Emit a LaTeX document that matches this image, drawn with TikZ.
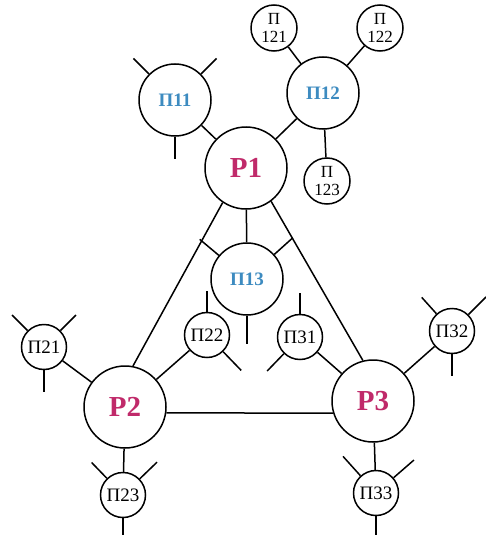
\documentclass[tikz,border=0pt]{standalone}
\usepackage{fontspec}
\setmainfont{Liberation Serif}
\definecolor{pmag}{HTML}{C02A6A}
\definecolor{pblue}{HTML}{3D8BC0}
\tikzset{
  base/.style={circle,draw,line width=1.5pt,inner sep=0pt},
  bignode/.style={base,minimum size=82pt,text=pmag,font=\fontsize{29}{30}\selectfont\bfseries},
  midnode/.style={base,minimum size=72pt,text=pblue,font=\fontsize{19}{21}\selectfont\bfseries},
  smallnode/.style={base,minimum size=45pt,font=\fontsize{19}{21}\selectfont},
  twonode/.style={base,minimum size=46pt,align=center,font=\fontsize{17}{18}\selectfont},
  conn/.style={line width=1.5pt},
}
\begin{document}
\begin{tikzpicture}[x=1pt,y=-1pt]
\useasboundingbox (0,0) rectangle (485,535);
% main nodes
\node[bignode] (P1) at (246,168) {P1};
\node[bignode] (P2) at (125,407) {P2};
\node[bignode] (P3) at (373,401) {P3};
\node[midnode] (N11) at (175,100) {П11};
\node[midnode] (N12) at (323,93) {П12};
\node[midnode] (N13) at (247,279) {П13};
\node[twonode] (N121) at (274,28) {П\\121};
\node[twonode] (N122) at (380,28) {П\\122};
\node[twonode] (N123) at (327,181) {П\\123};
\node[smallnode] (N21) at (44,347) {П21};
\node[smallnode] (N22) at (207,335) {П22};
\node[smallnode] (N23) at (123,495) {П23};
\node[smallnode] (N31) at (300,337) {П31};
\node[smallnode] (N32) at (452,331) {П32};
\node[smallnode] (N33) at (376,493) {П33};
% connectors
\draw[conn] (P1) -- (N11);
\draw[conn] (P1) -- (N12);
\draw[conn] (N12) -- (N121);
\draw[conn] (N12) -- (N122);
\draw[conn] (N12) -- (N123);
\draw[conn] (P1) -- (N13);
\draw[conn] (P1.236) -- (P2.79);
\draw[conn] (P1.-53) -- (P3.104);
\draw[conn] (P2.-8) -- (P3.197);
\draw[conn] (P2) -- (N21);
\draw[conn] (P2) -- (N22);
\draw[conn] (P2) -- (N23);
\draw[conn] (P3) -- (N31);
\draw[conn] (P3) -- (N32);
\draw[conn] (P3) -- (N33);
% stubs
\draw[conn] (N11.135) -- ++(135:22pt);
\draw[conn] (N11.45) -- ++(45:22pt);
\draw[conn] (N11.270) -- ++(270:22pt);
\draw[conn] (N13.140) -- ++(140:25pt);
\draw[conn] (N13.42) -- ++(42:25pt);
\draw[conn] (N13.270) -- ++(270:28pt);
\draw[conn] (N21.135) -- ++(135:22pt);
\draw[conn] (N21.45) -- ++(45:22pt);
\draw[conn] (N21.270) -- ++(270:22pt);
\draw[conn] (N22.90) -- ++(90:21pt);
\draw[conn] (N22.-46) -- ++(-46:26pt);
\draw[conn] (N31.90) -- ++(90:21pt);
\draw[conn] (N31.226) -- ++(226:24pt);
\draw[conn] (N32.132) -- ++(132:22pt);
\draw[conn] (N32.45) -- ++(45:25pt);
\draw[conn] (N32.270) -- ++(270:22pt);
\draw[conn] (N23.134) -- ++(134:22pt);
\draw[conn] (N23.44) -- ++(44:24pt);
\draw[conn] (N23.270) -- ++(270:20pt);
\draw[conn] (N33.132) -- ++(132:26pt);
\draw[conn] (N33.41) -- ++(41:27pt);
\draw[conn] (N33.270) -- ++(270:20pt);
\end{tikzpicture}
\end{document}
